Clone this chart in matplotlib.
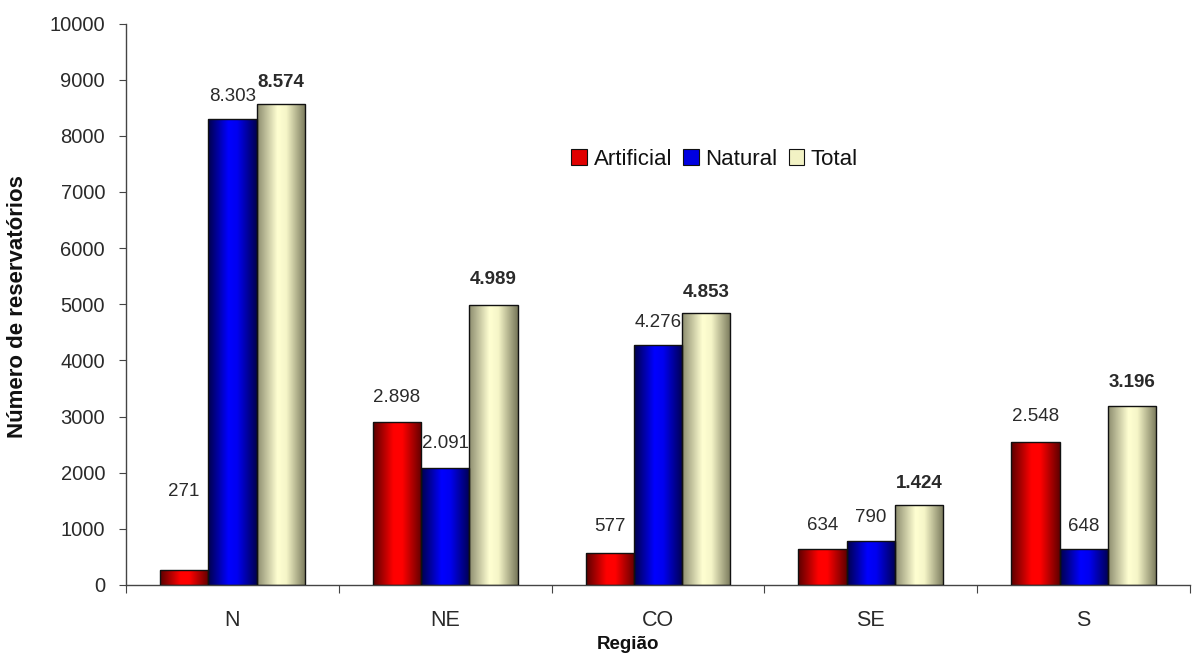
import numpy as np
import matplotlib
matplotlib.use("Agg")
import matplotlib.pyplot as plt
from matplotlib.colors import LinearSegmentedColormap
from matplotlib.patches import Patch

plt.rcParams["font.family"] = ["Liberation Sans", "DejaVu Sans"]

regions = ["N", "NE", "CO", "SE", "S"]
artificial = [271, 2898, 577, 634, 2548]
natural = [8303, 2091, 4276, 790, 648]
total = [8574, 4989, 4853, 1424, 3196]
series_names = ["Artificial", "Natural", "Total"]

# label offset above bar top, in pixels
art_offsets = [78, 25, 26, 24, 25]
nat_offsets = [22, 24, 22, 23, 22]
tot_offsets = [21, 25, 20, 22, 23]

# dark edge -> bright -> dark edge
shades = {
    "Artificial": ["#5a0000", "#ff0000", "#ff0000", "#600000"],
    "Natural": ["#00004a", "#0000ff", "#0000f0", "#000050"],
    "Total": ["#8c8c6e", "#ffffd2", "#f6f6c8", "#77775a"],
}
legend_colors = {"Artificial": "#e00000", "Natural": "#0000e0", "Total": "#f2f2c4"}

TEXT = "#2a2a2a"
AXIS = "#444444"


def fmt(v):
    return f"{v:,}".replace(",", ".")


def gradient_bars(ax, bars, cmap):
    grad = np.linspace(0, 1, 256).reshape(1, -1)
    for bar in bars:
        x0, y0 = bar.get_x(), bar.get_y()
        w, h = bar.get_width(), bar.get_height()
        im = ax.imshow(grad, extent=[x0, x0 + w, y0, y0 + h], aspect="auto",
                       cmap=cmap, zorder=2, interpolation="bicubic")
        im.set_clip_path(bar)
        bar.set_facecolor("none")
        bar.set_zorder(3)


fig = plt.figure(figsize=(11.95, 6.55), dpi=100)
ax = fig.add_axes([0.1054, 0.1069, 0.8905, 0.8572])

x = np.arange(len(regions))
width = 0.227
data = [artificial, natural, total]
offsets = [art_offsets, nat_offsets, tot_offsets]

for i, (name, vals) in enumerate(zip(series_names, data)):
    pos = x + (i - 1) * width
    bars = ax.bar(pos, vals, width, edgecolor="#111111", linewidth=1.0)
    cmap = LinearSegmentedColormap.from_list(
        name, list(zip([0.0, 0.42, 0.6, 1.0], shades[name])))
    gradient_bars(ax, bars, cmap)
    for p, v, off in zip(pos, vals, offsets[i]):
        ax.annotate(fmt(v), xy=(p, v), xytext=(0, off), textcoords="offset pixels",
                    ha="center", va="center", fontsize=13.5, color=TEXT,
                    fontweight="bold" if name == "Total" else "normal")

ax.set_xlim(-0.5, 4.5)
ax.set_ylim(0, 10000)
ax.set_yticks(np.arange(0, 10001, 1000))
ax.tick_params(axis="y", direction="out", length=5, color=AXIS, labelsize=14.5,
               labelcolor=TEXT, pad=10)

ax.set_xticks(np.arange(-0.5, 4.6, 1.0))
ax.set_xticklabels([])
ax.set_xticks(x, minor=True)
ax.set_xticklabels(regions, minor=True)
ax.tick_params(axis="x", which="major", direction="out", length=6, color=AXIS)
ax.tick_params(axis="x", which="minor", length=0, labelsize=15.5, labelcolor=TEXT, pad=18)

for s in ["top", "right"]:
    ax.spines[s].set_visible(False)
for s in ["left", "bottom"]:
    ax.spines[s].set_color(AXIS)
    ax.spines[s].set_linewidth(1.0)

ax.set_ylabel("Número de reservatórios", fontsize=16, fontweight="bold", color="#111111")
ax.yaxis.set_label_coords(-0.092, 0.495)
ax.set_xlabel("Região", fontsize=13.5, fontweight="bold", color="#111111")
ax.xaxis.set_label_coords(0.472, -0.091)

handles = [Patch(facecolor=legend_colors[n], edgecolor="#111111", linewidth=0.8)
           for n in series_names]
fig.legend(handles, series_names, loc="center", bbox_to_anchor=(0.598, 0.757),
           ncol=3, frameon=False, fontsize=16, handlelength=0.7, handleheight=0.7,
           handletextpad=0.3, columnspacing=0.5, labelcolor="#111111")

fig.savefig("out.png", dpi=100)
